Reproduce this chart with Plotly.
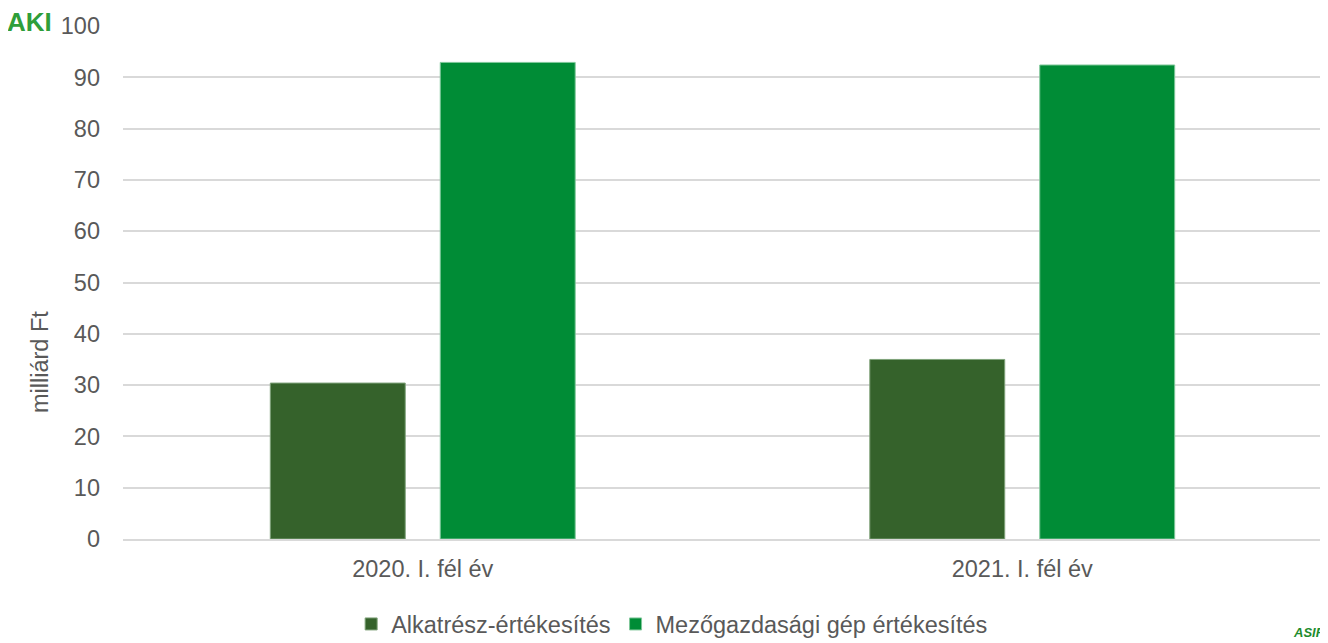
import plotly.graph_objects as go

categories = ["2020. I. fél év", "2021. I. fél év"]
alkatresz = [30.4, 35.0]
gep = [92.9, 92.4]
series_names = ["Alkatrész-értékesítés", "Mezőgazdasági gép értékesítés"]
colors = ["#35622B", "#008C36"]

fig = go.Figure()
fig.add_trace(go.Bar(x=categories, y=alkatresz, name=series_names[0],
                     marker=dict(color=colors[0], line=dict(color="#7FA27A", width=1))))
fig.add_trace(go.Bar(x=categories, y=gep, name=series_names[1],
                     marker=dict(color=colors[1], line=dict(color="#7FC79A", width=1))))

FS = 23.5
fig.update_layout(
    width=1320, height=635,
    margin=dict(l=115, r=6, t=18, b=104, autoexpand=False),
    plot_bgcolor="white", paper_bgcolor="white",
    barmode="group", bargap=0.433, bargroupgap=0.206,
    font=dict(family="Liberation Sans, Arial, sans-serif", color="#595959", size=FS),
    yaxis=dict(range=[0, 100], dtick=10, showgrid=True, gridcolor="#D9D9D9", gridwidth=1.5,
               zeroline=False, showline=False, ticks="", ticklabelstandoff=22, automargin=False,
               tickfont=dict(size=FS, color="#595959")),
    xaxis=dict(showline=True, linecolor="#D9D9D9", linewidth=1.5, ticks="", automargin=False,
               ticklabelstandoff=8,
               tickfont=dict(size=FS, color="#595959")),
    legend=dict(orientation="h", x=0.458, xanchor="center", y=-0.166, yanchor="middle",
                font=dict(size=FS, color="#595959"), itemwidth=30, traceorder="normal"),
    showlegend=True,
)

fig.add_annotation(xref="paper", yref="paper", x=-0.0692, y=0.345, xanchor="center", yanchor="middle",
                   text="milliárd Ft", textangle=-90, showarrow=False,
                   font=dict(size=FS, color="#595959"))
fig.add_annotation(xref="paper", yref="paper", x=-0.098, y=1.008, xanchor="left", yanchor="middle",
                   text="<b>AKI</b>", showarrow=False,
                   font=dict(size=26, color="#2E9E3A", family="Liberation Sans"))
fig.add_annotation(xref="paper", yref="paper", x=1.004, y=-0.2, xanchor="right", yanchor="bottom",
                   text="<b><i>ASIF</i></b>", showarrow=False,
                   font=dict(size=13, color="#1E8C2E", family="Liberation Sans"))

fig.write_html("out.html")
